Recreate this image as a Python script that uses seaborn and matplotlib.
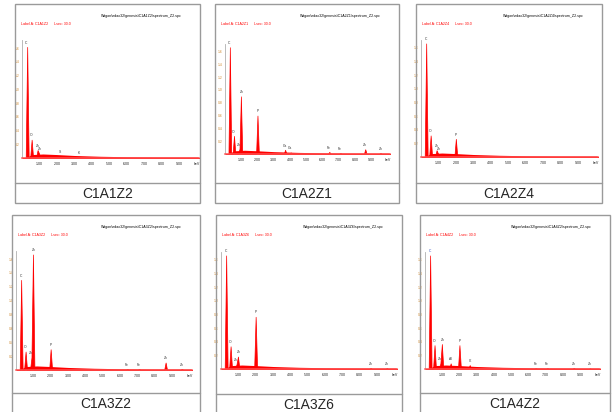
import matplotlib
matplotlib.use('Agg')
import matplotlib.pyplot as plt
from matplotlib.patches import Rectangle
from matplotlib.lines import Line2D
import seaborn as sns

# sample names, one per table cell
samples = ["C1A1Z2", "C1A2Z1", "C1A2Z4", "C1A3Z2", "C1A3Z6", "C1A4Z2"]

# peak energies (keV), relative heights and element tags
energy_1 = [0.26, 0.52, 0.88, 1.01, 2.20, 3.25]
height_1 = [0.97, 0.16, 0.07, 0.04, 0.012, 0.01]
tags_1 = ["C", "O", "Zn", "Zn", "S", "K"]

energy_2 = [0.27, 0.52, 0.88, 1.01, 2.01, 3.69, 4.01, 6.40, 7.06, 8.63, 9.57]
height_2 = [1.0, 0.17, 0.05, 0.54, 0.36, 0.04, 0.015, 0.02, 0.01, 0.045, 0.01]
tags_2 = ["C", "O", "Zn", "Zn", "P", "Ca", "Ca", "Fe", "Fe", "Zn", "Zn"]

energy_3 = [0.27, 0.52, 0.88, 1.01, 2.01, 2.70]
height_3 = [1.0, 0.19, 0.06, 0.03, 0.16, 0.01]
tags_3 = ["C", "O", "Zn", "Zn", "P", ""]

energy_4 = [0.27, 0.52, 0.88, 1.01, 2.01, 6.40, 7.06, 8.63, 9.57]
height_4 = [0.78, 0.16, 0.11, 1.0, 0.18, 0.01, 0.01, 0.065, 0.01]
tags_4 = ["C", "O", "Zn", "Zn", "P", "Fe", "Fe", "Zn", "Zn"]

energy_5 = [0.27, 0.52, 0.88, 1.01, 2.01, 8.63, 9.57]
height_5 = [1.0, 0.20, 0.04, 0.11, 0.46, 0.01, 0.008]
tags_5 = ["C", "O", "Zn", "Zn", "P", "Zn", "Zn"]

energy_6 = [0.27, 0.52, 0.88, 1.01, 1.49, 2.01, 2.62, 6.40, 7.06, 8.63, 9.57]
height_6 = [1.0, 0.21, 0.05, 0.22, 0.05, 0.21, 0.035, 0.008, 0.008, 0.01, 0.006]
tags_6 = ["C", "O", "Zn", "Zn", "Al", "P", "Cl", "Fe", "Fe", "Zn", "Zn"]

# low bremsstrahlung background common to all spectra
bg_energy = [0.15, 0.6, 1.2, 2.0, 3.0, 4.5, 6.0, 8.0, 10.1]
bg_level = [0.0, 0.03, 0.035, 0.03, 0.022, 0.015, 0.011, 0.009, 0.008]

x_ticks = [1, 2, 3, 4, 5, 6, 7, 8, 9, 10]
x_ticklabels = ["1.00", "2.00", "3.00", "4.00", "5.00", "6.00", "7.00", "8.00", "9.00", "keV"]

spectra = [(energy_1, height_1, tags_1), (energy_2, height_2, tags_2),
           (energy_3, height_3, tags_3), (energy_4, height_4, tags_4),
           (energy_5, height_5, tags_5), (energy_6, height_6, tags_6)]

W, H = 613, 412

# cell boxes in pixels: left, top, right, bottom, separator line
cells = [(15, 4, 200, 203, 183), (215, 4, 399, 203, 183), (416, 4, 602, 203, 183),
         (12, 215, 200, 430, 393), (216, 215, 402, 430, 394), (420, 215, 610, 430, 393)]
# spectrum axes in pixels: left, top, right, bottom
boxes = [(22, 40, 199, 158), (225, 44, 390, 154), (421, 40, 598, 157),
         (16, 251, 192, 370), (221, 252, 397, 369), (425, 252, 600, 369)]

sns.set_style("white")
plt.rcParams['font.family'] = ['Liberation Sans', 'DejaVu Sans']

fig = plt.figure(figsize=(W / 100, H / 100), dpi=100)


def fx(x):
    return x / W


def fy(y):
    return 1 - y / H


border = "#9a9a9a"
for (l, t, r, b, s), name in zip(cells, samples):
    fig.patches.append(Rectangle((fx(l), fy(b)), fx(r - l), (b - t) / H, fill=False,
                                 edgecolor=border, lw=1.0, transform=fig.transFigure))
    fig.lines.append(Line2D([fx(l), fx(r)], [fy(s), fy(s)], color=border, lw=1.0,
                            transform=fig.transFigure))
    fig.text(fx((l + r) / 2), fy(s + 11), name, ha="center", va="center", fontsize=10)
    fig.text(fx(r - 18), fy(t + 12), "Wagon\\edax32\\genesis\\" + name + "\\spectrum_Z2.spc",
             ha="right", va="center", fontsize=2.6, color="black")
    fig.text(fx(l + 6), fy(t + 20), "Label A: " + name + "      Lsec: 30.0",
             ha="left", va="center", fontsize=2.6, color="red")

for i, ((l, t, r, b), (en, ht, tags)) in enumerate(zip(boxes, spectra)):
    ax = fig.add_axes([fx(l), fy(b), fx(r - l), (b - t) / H])
    ax.fill_between(bg_energy, bg_level, color="red", lw=0)
    sns.histplot(x=en, weights=ht, binwidth=0.085, binrange=(0, 10.2), element="poly",
                 fill=True, color="red", alpha=1, linewidth=0.5, ax=ax)
    for e, h, tg in zip(en, ht, tags):
        if tg:
            c = "#3050c0" if (i == 5 and tg == "C") else "#333333"
            ax.text(e, h + 0.02, tg, fontsize=2.4, ha="center", va="bottom", color=c)
    ax.set_xlim(0, 10.15)
    ax.set_ylim(0, 1.03)
    ax.set_xlabel("")
    ax.set_ylabel("")
    ax.set_xticks(x_ticks)
    ax.set_xticklabels(x_ticklabels)
    ax.set_yticks([0.12, 0.24, 0.36, 0.48, 0.60, 0.72, 0.84, 0.96])
    ax.set_yticklabels(["0.2", "0.4", "0.6", "0.8", "1.0", "1.2", "1.4", "1.6"])
    ax.tick_params(axis="x", labelsize=2.6, length=1.2, width=0.4, pad=1.5, colors="#222222")
    ax.tick_params(axis="y", labelsize=2.4, length=1.0, width=0.4, pad=0.8, labelcolor="#d08a30")
    for side in ["top", "right"]:
        ax.spines[side].set_visible(False)
    ax.spines["left"].set_color("#b0b0b0")
    ax.spines["left"].set_linewidth(0.6)
    ax.spines["bottom"].set_color("#ff5050")
    ax.spines["bottom"].set_linewidth(1.1)
    ax.patch.set_alpha(0)

fig.savefig("out.png", dpi=100)
